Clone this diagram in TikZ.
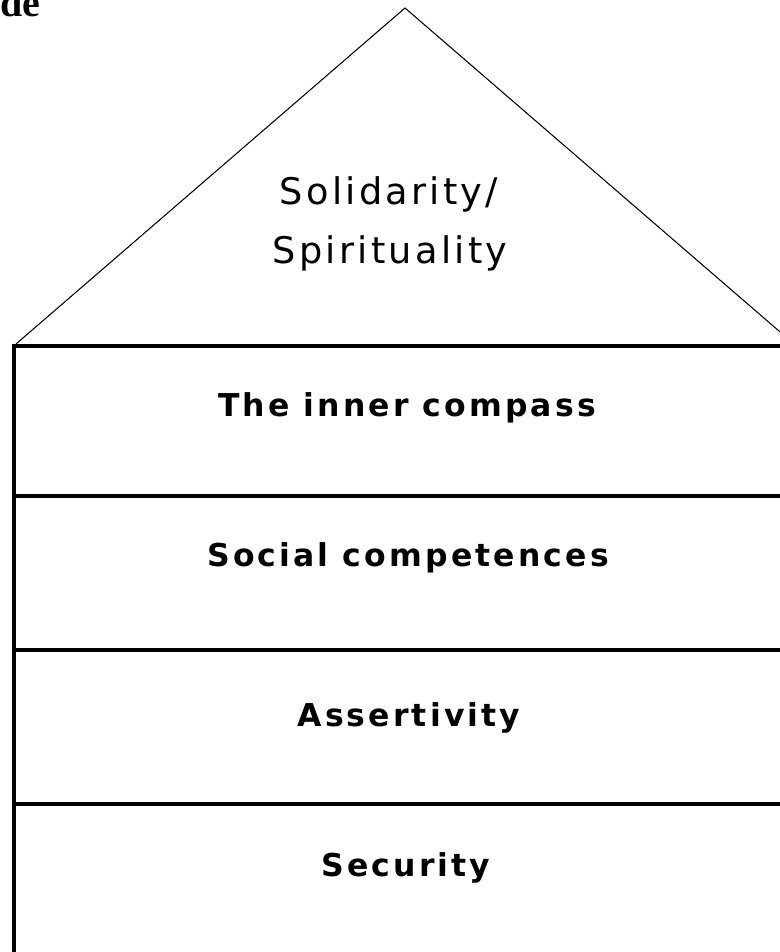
\documentclass[tikz,border=0pt]{standalone}
\usepackage{fontspec}
\newfontfamily\floorfont[LetterSpace=10]{DejaVu Sans}
\newfontfamily\rooffont[LetterSpace=9]{DejaVu Sans}
\newfontfamily\headfont{Liberation Serif}

\begin{document}
\begin{tikzpicture}[x=0.75pt,y=-0.75pt,
	wall/.style={line width=2.5pt},
	roofline/.style={line width=0.8pt},
	floorlabel/.style={anchor=base,inner sep=0pt,font=\floorfont\bfseries\fontsize{23.6}{28}\selectfont},
	rooflabel/.style={anchor=base,inner sep=0pt,font=\rooffont\fontsize{27.5}{33}\selectfont}]
	\useasboundingbox (0,0) rectangle (780,952);
	\clip (0,0) rectangle (780,952);

	% cut-off heading
	\node[anchor=base east,inner sep=0pt,font=\headfont\bfseries\fontsize{30}{36}\selectfont] (head) at (41,17) {de};

	% roof
	\draw[roofline] (16,344) -- (405,8) -- (794,344);

	% floors
	\draw[wall] (14,952) -- (14,346) -- (800,346);
	\draw[wall] (14,496) -- (800,496);
	\draw[wall] (14,650) -- (800,650);
	\draw[wall] (14,804) -- (800,804);

	\node[rooflabel] (solidarity) at (389,205) {Solidarity/};
	\node[rooflabel] (spirituality) at (390,263) {Spirituality};

	\node[floorlabel] (compass) at (407,416) {The inner compass};
	\node[floorlabel] (social) at (408,566) {Social competences};
	\node[floorlabel] (assert) at (409,726) {Assertivity};
	\node[floorlabel] (security) at (406,876) {Security};
\end{tikzpicture}
\end{document}
